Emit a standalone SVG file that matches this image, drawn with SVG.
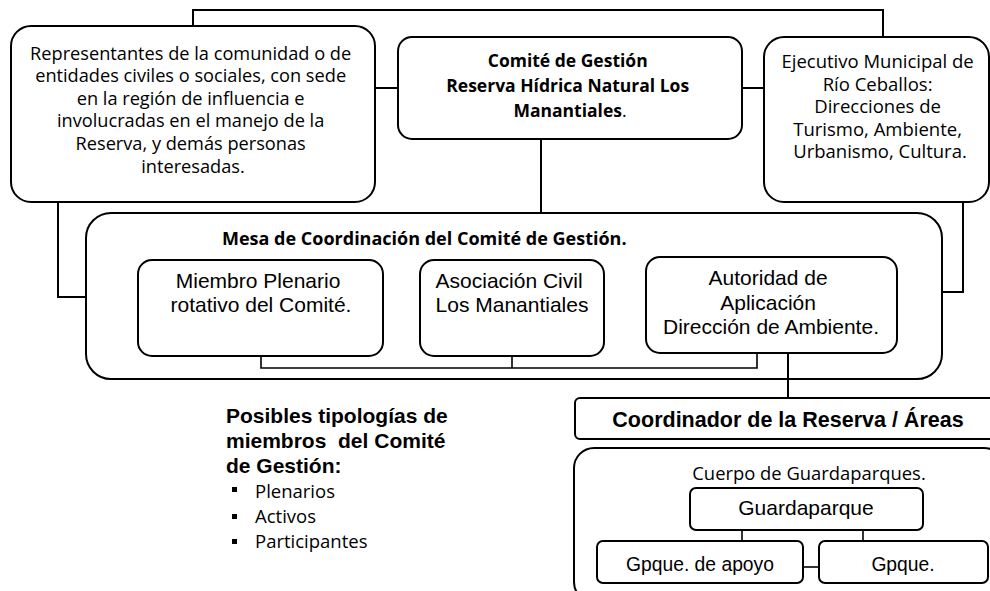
<svg xmlns="http://www.w3.org/2000/svg" width="990" height="591" viewBox="0 0 990 591">
<style>
.bx{fill:#fff;stroke:#000;stroke-width:2}
.ln{fill:none;stroke:#000;stroke-width:2}
.ln2{fill:none;stroke:#000;stroke-width:1.6}
.cal{font-family:"Open Sans","Noto Sans",sans-serif;font-size:18.4px;fill:#000}
.calb{font-family:"Open Sans","Noto Sans",sans-serif;font-size:17.5px;font-weight:bold;fill:#000}
.ar{font-family:"Liberation Sans",Arial,sans-serif;font-size:21px;fill:#000}
.arb{font-family:"Liberation Sans",Arial,sans-serif;font-size:21px;font-weight:bold;fill:#000}
.c{text-anchor:middle}
</style>
<rect width="990" height="591" fill="#fff"/>

<g id="representantes">
<rect class="bx" x="11" y="26" width="364" height="176" rx="20"/>
<text class="cal c" style="font-size:18.2px">
<tspan x="193" y="59.5">Representantes de la comunidad o de</tspan>
<tspan x="193" y="82.1">entidades civiles o sociales, con sede</tspan>
<tspan x="193" y="104.7">en la región de influencia e</tspan>
<tspan x="193" y="127.3">involucradas en el manejo de la</tspan>
<tspan x="193" y="149.9">Reserva, y demás personas</tspan>
<tspan x="193" y="172.5">interesadas.</tspan>
</text>
</g>

<g id="comite">
<rect class="bx" x="398" y="37" width="344" height="102" rx="14"/>
<text class="calb c">
<tspan x="570" y="67">Comité de Gestión</tspan>
<tspan x="570" y="92">Reserva Hídrica Natural Los</tspan>
<tspan x="570" y="117">Manantiales<tspan font-weight="normal">.</tspan></tspan>
</text>
</g>

<g id="ejecutivo">
<rect class="bx" x="764" y="37" width="225" height="165" rx="20"/>
<text class="cal c" style="font-size:18.5px">
<tspan x="880" y="68">Ejecutivo Municipal de</tspan>
<tspan x="880" y="90.6">Río Ceballos:</tspan>
<tspan x="880" y="113.2">Direcciones de</tspan>
<tspan x="880" y="135.8">Turismo, Ambiente,</tspan>
<tspan x="880" y="158.4">Urbanismo, Cultura.</tspan>
</text>
</g>

<g id="mesa">
<rect class="bx" x="86" y="213" width="856" height="166" rx="25"/>
<text class="calb" style="font-size:18px" x="222" y="245">Mesa de Coordinación del Comité de Gestión.</text>
</g>

<g id="miembro">
<rect class="bx" x="138" y="260" width="245" height="96" rx="14"/>
<text class="ar c">
<tspan x="261" y="288">Miembro Plenario</tspan>
<tspan x="261" y="312">rotativo del Comité.</tspan>
</text>
</g>

<g id="asociacion">
<rect class="bx" x="420" y="260" width="184" height="96" rx="14"/>
<text class="ar c">
<tspan x="512" y="288">Asociación Civil</tspan>
<tspan x="512" y="312">Los Manantiales</tspan>
</text>
</g>

<g id="autoridad">
<rect class="bx" x="646" y="257" width="251" height="96" rx="14"/>
<text class="ar c">
<tspan x="771" y="285">Autoridad de</tspan>
<tspan x="771" y="309.5">Aplicación</tspan>
<tspan x="771" y="334">Dirección de Ambiente.</tspan>
</text>
</g>

<g id="coordinador">
<rect class="bx" x="575" y="398" width="430" height="41" rx="5"/>
<text class="arb c" style="font-size:21.5px" x="788" y="427">Coordinador de la Reserva / Áreas</text>
</g>

<g id="cuerpo">
<rect class="bx" x="574" y="448" width="430" height="154" rx="20"/>
<text class="cal c" x="809" y="480">Cuerpo de Guardaparques.</text>
</g>

<g id="guardaparque">
<rect class="bx" x="690" y="488" width="233" height="42" rx="6"/>
<text class="ar c" x="806" y="515">Guardaparque</text>
</g>

<g id="gpque-apoyo">
<rect class="bx" x="597" y="541" width="206" height="42" rx="6"/>
<text class="ar c" style="font-size:19.3px" x="700" y="571">Gpque. de apoyo</text>
</g>

<g id="gpque">
<rect class="bx" x="819" y="541" width="169" height="42" rx="6"/>
<text class="ar c" style="font-size:19.3px" x="903" y="571">Gpque.</text>
</g>

<g id="tipologias">
<text class="arb" xml:space="preserve">
<tspan x="226" y="423">Posibles tipologías de</tspan>
<tspan x="226" y="448">miembros  del Comité</tspan>
<tspan x="226" y="473">de Gestión:</tspan>
</text>
<rect x="232" y="487" width="5" height="5" fill="#000"/>
<rect x="232" y="514" width="5" height="5" fill="#000"/>
<rect x="232" y="539" width="5" height="5" fill="#000"/>
<text class="cal" style="font-size:18.5px">
<tspan x="255" y="498">Plenarios</tspan>
<tspan x="255" y="523">Activos</tspan>
<tspan x="255" y="548">Participantes</tspan>
</text>
</g>

<g id="connectors">
<path class="ln" d="M193,26 V10 H883 V37"/>
<path class="ln" d="M375,88 H398"/>
<path class="ln" d="M742,88 H764"/>
<path class="ln" d="M541,139 V213"/>
<path class="ln" d="M58,202 V297 H86"/>
<path class="ln" d="M963,202 V292 H942"/>
<path class="ln2" d="M261,356 V368 H757 V353"/>
<path class="ln2" d="M512,356 V368"/>
<path class="ln" d="M788,353 V398"/>
<path class="ln2" d="M742,530 V541"/>
<path class="ln2" d="M863,530 V541"/>
<path class="ln2" d="M803,567 H819"/>
</g>
</svg>
